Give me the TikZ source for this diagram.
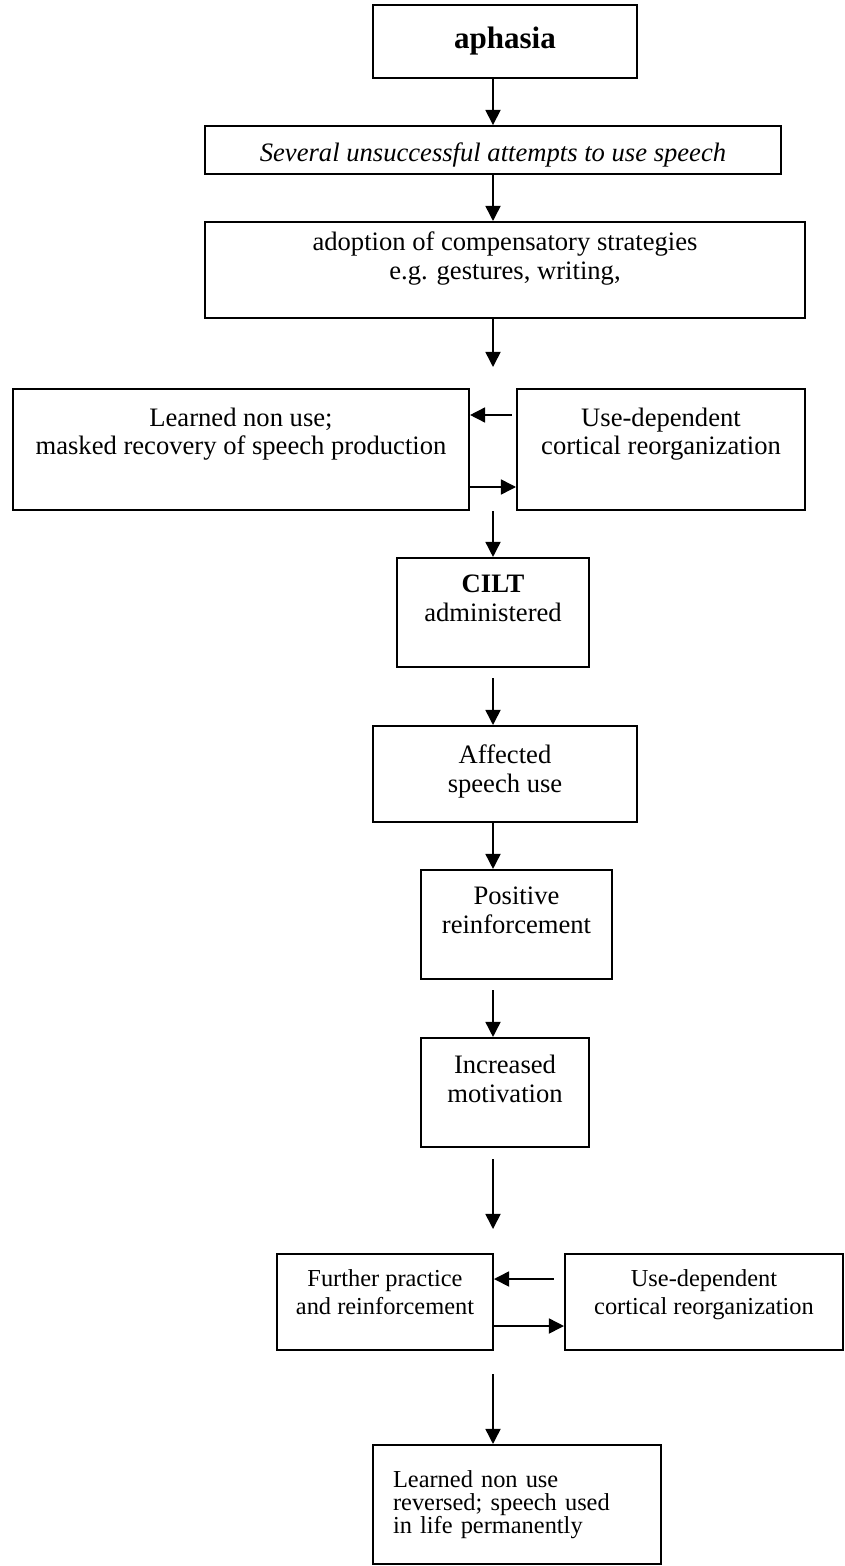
\documentclass[tikz,border=0pt]{standalone}
\usepackage{fontspec}
\setmainfont{Liberation Serif}
\usetikzlibrary{arrows.meta,calc}

\begin{document}
\begin{tikzpicture}[x=0.451pt,y=-0.451pt,>={Triangle[length=6.8pt,width=6.8pt]},
  box/.style={draw,line width=0.9pt,inner sep=0pt,align=center,font=\fontsize{12}{13}\selectfont},
  sbox/.style={box,font=\fontsize{11}{12.6}\selectfont},
  arr/.style={->,line width=0.7pt}]
  \useasboundingbox (0,0) rectangle (844,1566);
  % main column
  \node[box,minimum width=119.1pt,minimum height=32.9pt,font=\fontsize{14}{16}\selectfont\bfseries] (aphasia) at (505,41.5) {aphasia};
  \node[box,minimum width=259.8pt,minimum height=21.6pt,text height=13.2pt,font=\fontsize{12}{13}\selectfont\itshape] (several) at (493,150) {Several unsuccessful attempts to use speech};
  \node[box,minimum width=270.6pt,minimum height=43.3pt,text depth=13.2pt] (adopt) at (505,270) {adoption of compensatory strategies\\e.g. gestures, writing,};
  \node[box,minimum width=205.7pt,minimum height=54.6pt,text depth=16.4pt] (learn) at (241,449.5) {Learned non use;\\masked recovery of speech production};
  \node[box,minimum width=129.9pt,minimum height=54.6pt,text depth=16.4pt] (ud1) at (661,449.5) {Use-dependent\\cortical reorganization};
  \node[box,minimum width=86.6pt,minimum height=49.2pt,text depth=12.7pt] (cilt) at (493,612.5) {\textbf{CILT}\\administered};
  \node[box,minimum width=119.1pt,minimum height=43.3pt,text depth=5.2pt] (affect) at (505,774) {Affected\\speech use};
  \node[box,minimum width=86.1pt,minimum height=49.2pt,text depth=12.6pt] (posit) at (516.5,924.5) {Positive\\reinforcement};
  \node[box,minimum width=75.8pt,minimum height=49.2pt,text depth=12.6pt] (incr) at (505,1092.5) {Increased\\motivation};
  % practice loop
  \node[sbox,minimum width=97.4pt,minimum height=43.3pt,text depth=9.3pt] (further) at (385,1302) {Further practice\\and reinforcement};
  \node[sbox,minimum width=125.4pt,minimum height=43.3pt,text depth=9.3pt] (ud2) at (704,1302) {Use-dependent\\cortical reorganization};
  \node[sbox,font=\fontsize{11}{10.5}\selectfont,align=left,text width=111.8pt,inner xsep=9pt,minimum height=53.7pt] (final) at (517,1504.5) {Learned non use\\reversed; speech used\\in life permanently};
  % free arrow ends
  \coordinate (gap1) at (493,367);
  \coordinate (gap2) at (493,1229);
  % connectors
  \draw[arr] (aphasia.south -| several.north) -- (several.north);
  \draw[arr] (several.south) -- (several.south |- adopt.north);
  \draw[arr] (adopt.south -| cilt) -- (gap1);
  \draw[arr] ($(ud1.west)+(-4,-34.5)$) -- ($(learn.east)+(0,-34.5)$);
  \draw[arr] ($(learn.east)+(0,37.5)$) -- ($(ud1.west)+(0,37.5)$);
  \draw[arr] (learn.south -| cilt.north) -- (cilt.north);
  \draw[arr] ($(cilt.south)+(0,10)$) -- (cilt.south |- affect.north);
  \draw[arr] (affect.south -| cilt) -- (posit.north -| cilt);
  \draw[arr] ($(posit.south -| cilt)+(0,10)$) -- (incr.north -| cilt);
  \draw[arr] ($(incr.south -| cilt)+(0,11)$) -- (gap2);
  \draw[arr] ($(ud2.west)+(-10,-23)$) -- ($(further.east)+(0,-23)$);
  \draw[arr] ($(further.east)+(0,24)$) -- ($(ud2.west)+(0,24)$);
  \draw[arr] ($(further.south -| cilt)+(0,23)$) -- (final.north -| cilt);
\end{tikzpicture}
\end{document}
